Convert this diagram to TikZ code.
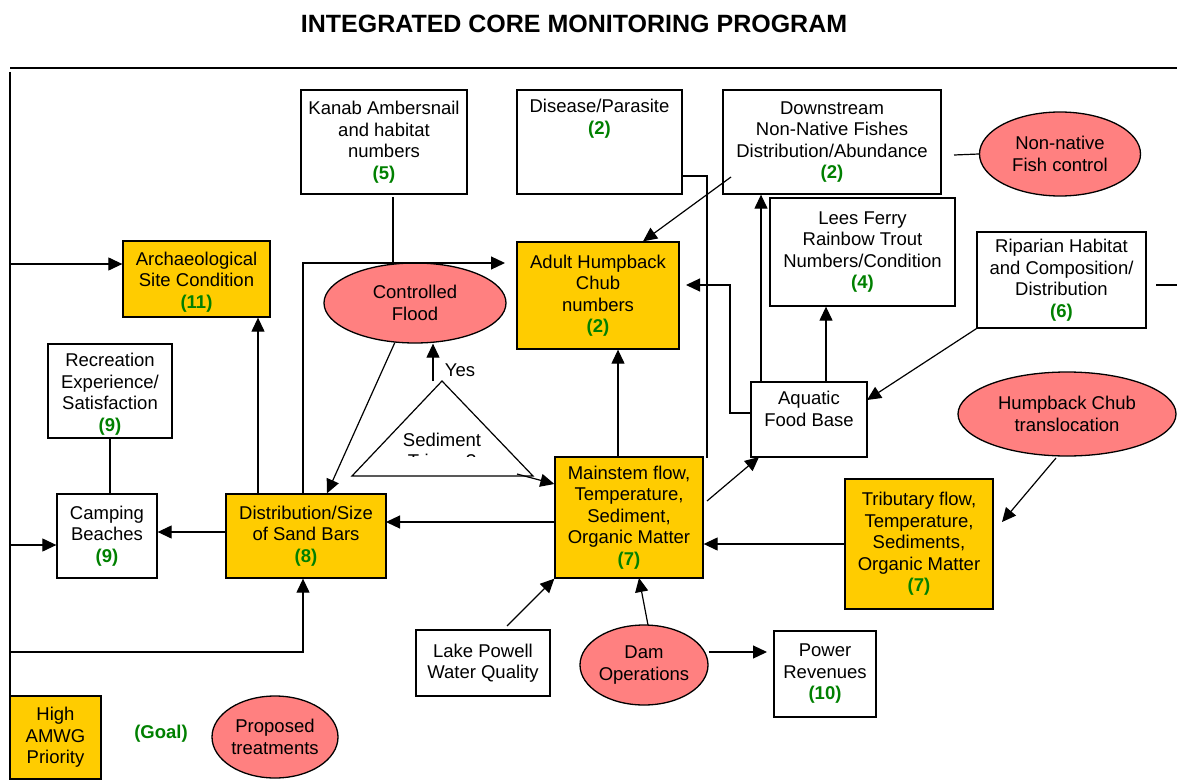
\documentclass[tikz,border=0pt]{standalone}
\usepackage{fontspec}
\setmainfont{Liberation Sans}
\usepackage{tikz}
\usetikzlibrary{shapes.geometric,arrows.meta}
\definecolor{prioyellow}{RGB}{255,204,0}
\definecolor{treatpink}{RGB}{255,128,128}
\definecolor{goalgreen}{RGB}{0,128,0}
\newcommand{\goalno}[1]{{\color{goalgreen}\bfseries(#1)}}

\begin{document}
\begin{tikzpicture}[x=1pt,y=-1pt]
  \tikzstyle{every node}+=[inner sep=0pt, font=\fontsize{18.5}{21.5}\selectfont, align=center]
  \tikzstyle{plain}=[draw, line width=1.3pt, rectangle]
  \tikzstyle{prio}=[plain, fill=prioyellow]
  \tikzstyle{treat}=[draw, line width=1.3pt, ellipse, fill=treatpink]
  \tikzstyle{link}=[line width=1.2pt]
  \tikzstyle{arr}=[link, -{Triangle[length=14pt,width=13pt]}]
  \useasboundingbox (0,0) rectangle (1177,781);

  \node[font=\fontsize{25}{30}\selectfont\bfseries] (title) at (574,24) {INTEGRATED CORE MONITORING PROGRAM};

  % top row
  \node[plain, minimum width=166pt, minimum height=104pt] (kanab) at (384,142) {Kanab Ambersnail\\and habitat\\numbers\\\goalno{5}};
  \node[plain, minimum width=165pt, minimum height=104pt] (disease) at (599.5,142) {};
  \node[anchor=north] (disease-txt) at ([yshift=-10pt]disease.north) {Disease/Parasite\\\goalno{2}};
  \node[plain, minimum width=218pt, minimum height=104pt] (downstream) at (832,142) {Downstream\\Non-Native Fishes\\Distribution/Abundance\\\goalno{2}};
  \node[treat, minimum width=161pt, minimum height=84pt] (nnfish) at (1060,154) {Non-native\\Fish control};
  \node[plain, minimum width=185pt, minimum height=108pt] (lees) at (862.5,252) {Lees Ferry\\Rainbow Trout\\Numbers/Condition\\\goalno{4}};
  \node[plain, minimum width=169pt, minimum height=96pt] (riparian) at (1061.5,280) {Riparian Habitat\\and Composition/\\Distribution\\\goalno{6}};

  % middle
  \node[prio, minimum width=147pt, minimum height=76pt] (archae) at (196.5,279) {};
  \node (archae-txt) at ([yshift=-3pt]archae.center) {Archaeological\\Site Condition\\\goalno{11}};
  \node[prio, minimum width=162pt, minimum height=107pt] (adult) at (598,295.5) {Adult Humpback\\Chub\\numbers\\\goalno{2}};
  \node[treat, minimum width=182pt, minimum height=80pt] (flood) at (415,303) {Controlled\\Flood};
  \node[plain, minimum width=124pt, minimum height=94pt] (recreation) at (110,391) {};
  \node (recreation-txt) at ([yshift=-3pt]recreation.center) {Recreation\\Experience/\\Satisfaction\\\goalno{9}};
  \node[plain, minimum width=116pt, minimum height=75pt] (aquatic) at (809,419.5) {};
  \node[anchor=north] (aquatic-txt) at ([yshift=-10pt]aquatic.north) {Aquatic\\Food Base};
  \node[treat, minimum width=218pt, minimum height=84pt] (transloc) at (1067,414) {Humpback Chub\\translocation};

  % sediment trigger
  \coordinate (trig-top) at (442,381);
  \coordinate (trig-left) at (352,476);
  \coordinate (trig-right) at (533,476);
  \draw[link] (trig-top) -- (trig-left) -- (trig-right) -- cycle;
  \node[anchor=base] (trig-txt) at (442,446) {Sediment};
  \begin{scope}
    \clip (350,449) rectangle (540,456.5);
    \node[anchor=base] (trig-txt2) at (442,467.5) {Trigger?};
  \end{scope}
  \node (yes) at (460,370) {Yes};

  % lower
  \node[plain, minimum width=100pt, minimum height=84pt] (camping) at (107,536) {Camping\\Beaches\\\goalno{9}};
  \node[prio, minimum width=160pt, minimum height=84pt] (sandbars) at (306,536) {Distribution/Size\\of Sand Bars\\\goalno{8}};
  \node[prio, minimum width=148pt, minimum height=121pt] (mainstem) at (629,517.5) {Mainstem flow,\\Temperature,\\Sediment,\\Organic Matter\\\goalno{7}};
  \node[prio, minimum width=148pt, minimum height=130pt] (tributary) at (919,544) {Tributary flow,\\Temperature,\\Sediments,\\Organic Matter\\\goalno{7}};
  \node[plain, minimum width=134pt, minimum height=66pt] (lake) at (483,663) {Lake Powell\\Water Quality};
  \node[treat, minimum width=128pt, minimum height=80pt] (dam) at (644,665) {Dam\\Operations};
  \node[plain, minimum width=102pt, minimum height=86pt] (power) at (825,674) {Power\\Revenues\\\goalno{10}};

  % legend
  \node[prio, minimum width=91pt, minimum height=83pt] (legend) at (55.5,737.5) {High\\AMWG\\Priority};
  \node (goal) at (161,734) {\goalno{Goal}};
  \node[treat, minimum width=126pt, minimum height=82pt] (proposed) at (275,737) {Proposed\\treatments};

  % frame
  \coordinate (frame-tl) at (10,68);
  \coordinate (frame-tr) at (1177,68);
  \coordinate (frame-top) at (10,72);
  \coordinate (frame-bot) at (10,696);
  \draw[link] (frame-tl) -- (frame-tr);
  \draw[link] (frame-top) -- (frame-bot);

  % connectors
  \coordinate (left-arch) at (10,264);
  \coordinate (left-camp) at (10,545);
  \coordinate (left-sand) at (10,652);
  \coordinate (sand-bend) at (303,652);
  \draw[arr] (left-arch) -- (archae.west |- left-arch);
  \draw[arr] (left-camp) -- (camping.west |- left-camp);
  \draw[arr] (left-sand) -- (sand-bend) -- (sandbars.south -| sand-bend);

  \coordinate (flood-bend) at (303,263);
  \coordinate (adult-in) at (505,263);
  \coordinate (kanab-out) at (393,197);
  \coordinate (arch-x) at (258,0);
  \draw[link] (kanab-out) -- (kanab-out |- flood-bend);
  \draw[arr] (sandbars.north -| flood-bend) -- (flood-bend) -- (adult-in);
  \draw[arr] (sandbars.north -| arch-x) -- (archae.south -| arch-x);
  \draw[link] (recreation.south) -- (camping.north -| recreation.south);
  \draw[arr] ([yshift=4pt]sandbars.west) -- ([yshift=4pt]camping.east);
  \draw[arr] (flood.-117) -- ([xshift=21pt]sandbars.north);

  \coordinate (yes-out) at (433,381);
  \coordinate (trig-out) at (517,474);
  \coordinate (main-in) at (553,484);
  \draw[arr] (yes-out) -- (flood.south -| yes-out);
  \draw[arr] (trig-out) -- (mainstem.west |- main-in);

  \coordinate (sand-in) at (386,522);
  \coordinate (main-top) at ([xshift=-11pt]mainstem.north);
  \draw[arr] (mainstem.west |- sand-in) -- (sand-in);
  \draw[arr] (main-top) -- (main-top |- adult.south);

  \coordinate (dis-bend) at (707,176);
  \coordinate (dis-end) at (707,458);
  \coordinate (down-out) at (731,177);
  \draw[link] (disease.east |- dis-bend) -- (dis-bend) -- (dis-end);
  \draw[arr] (down-out) -- ([xshift=45pt]adult.north);

  \coordinate (aq-bend1) at (730,413);
  \coordinate (aq-bend2) at (730,285);
  \coordinate (adult-in2) at (686,285);
  \coordinate (aq-top1) at ([xshift=-48pt]aquatic.north);
  \coordinate (aq-top2) at ([xshift=17pt]aquatic.north);
  \coordinate (aq-in) at (867,400);
  \coordinate (aq-in2) at (759,457);
  \coordinate (main-out) at (707,501);
  \draw[arr] (aquatic.west |- aq-bend1) -- (aq-bend1) -- (aq-bend2) -- (adult-in2);
  \draw[arr] (aq-top1) -- (aq-top1 |- downstream.south);
  \draw[arr] (aq-top2) -- (aq-top2 |- lees.south);
  \draw[arr] (riparian.south west) -- (aq-in);
  \draw[arr] (main-out) -- (aq-in2);

  \coordinate (fish-line) at (954,155);
  \coordinate (rip-a) at (1156,285);
  \coordinate (rip-b) at (1177,285);
  \draw[link] (fish-line) -- (nnfish.west);
  \draw[link] (rip-a) -- (rip-b);

  \coordinate (trans-out) at (1056,458);
  \coordinate (trib-in) at (1002,522);
  \draw[arr] (trans-out) -- (trib-in);
  \draw[arr] (tributary.west) -- (mainstem.east |- tributary.west);

  \coordinate (lake-out) at (507,626);
  \coordinate (dam-out) at (648,625);
  \coordinate (main-in2) at (639,578);
  \coordinate (power-in) at (767,652);
  \draw[arr] (lake-out) -- (mainstem.south west);
  \draw[arr] (dam-out) -- (main-in2);
  \draw[arr] (dam.east |- power-in) -- (power-in);
\end{tikzpicture}
\end{document}
